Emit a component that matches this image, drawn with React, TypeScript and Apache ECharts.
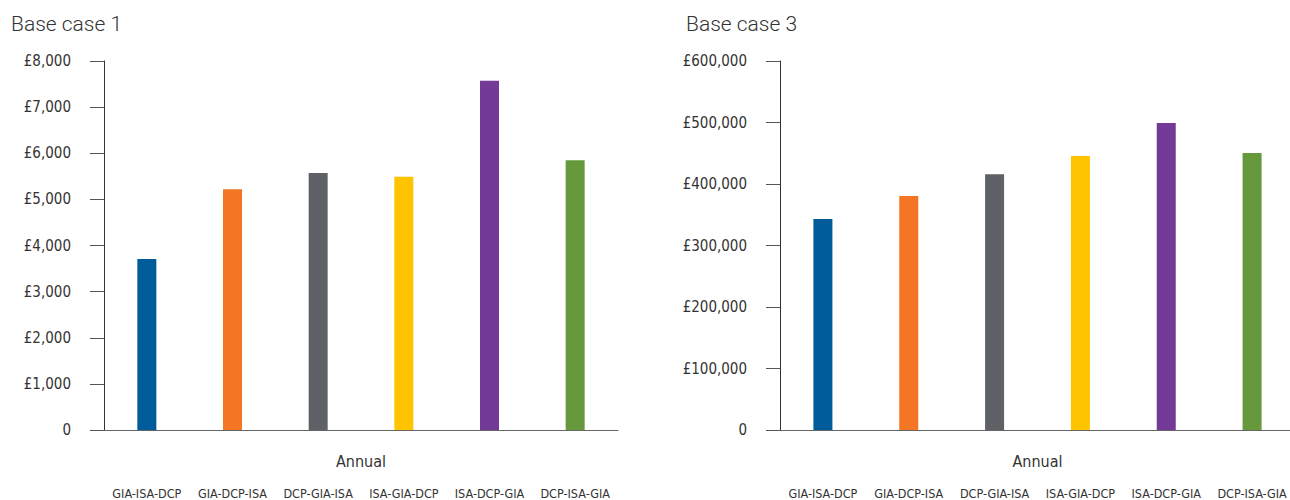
import React, { useEffect, useRef } from "react";
import * as echarts from "echarts";

const strategies = ["GIA-ISA-DCP", "GIA-DCP-ISA", "DCP-GIA-ISA", "ISA-GIA-DCP", "ISA-DCP-GIA", "DCP-ISA-GIA"];
const baseCase1 = [3710, 5220, 5570, 5490, 7570, 5850];
const baseCase3 = [343000, 380500, 416000, 445500, 499000, 450500];
const barColors = ["#005B9A", "#F47625", "#5E6266", "#FFC300", "#733A97", "#65993B"];
const titles = ["Base case 1", "Base case 3"];
const axisName = "Annual";

const condensed = "'Liberation Sans Narrow', 'DejaVu Sans Condensed', Roboto, sans-serif";

const fmt = (v: number) => (v === 0 ? "0" : "£" + v.toLocaleString("en-GB"));

export default function App() {
  const ref = useRef<HTMLDivElement>(null);
  useEffect(() => {
    if (!ref.current) return;
    const chart = echarts.init(ref.current, undefined, { renderer: "svg" });
    const grids = [
      { left: 104, width: 514, top: 61, height: 369, outerBoundsMode: "none", containLabel: false },
      { left: 780, width: 515, top: 61, height: 369, outerBoundsMode: "none", containLabel: false },
    ];
    const datasets = [baseCase1, baseCase3];
    const yMax = [8000, 600000];
    const yInt = [1000, 100000];
    chart.setOption({
      animation: false,
      title: titles.map((t, i) => ({
        text: t,
        left: i === 0 ? 6 : 681,
        top: 8,
        textStyle: { fontFamily: "Roboto, 'Liberation Sans', sans-serif", fontWeight: 300, fontSize: 21, color: "#333" },
      })),
      grid: grids,
      xAxis: grids.map((_, i) => ({
        type: "category",
        gridIndex: i,
        data: strategies,
        axisLine: { show: true, lineStyle: { color: "#666", width: 1 } },
        axisTick: { show: false },
        axisLabel: { margin: 57, fontSize: 12.5, color: "#333", fontFamily: condensed, interval: 0 },
        name: axisName,
        nameLocation: "middle",
        nameGap: 23,
        nameMoveOverlap: false,
        nameTextStyle: { fontSize: 16, color: "#333", fontFamily: condensed },
      })),
      yAxis: grids.map((_, i) => ({
        type: "value",
        gridIndex: i,
        min: 0,
        max: yMax[i],
        interval: yInt[i],
        axisLine: { show: true, lineStyle: { color: "#333", width: 1 } },
        axisTick: { show: true, length: 14, lineStyle: { color: "#555" } },
        splitLine: { show: false },
        axisLabel: { margin: 33, fontSize: 15, color: "#333", fontFamily: condensed, formatter: fmt },
      })),
      series: datasets.map((d, i) => ({
        type: "bar",
        xAxisIndex: i,
        yAxisIndex: i,
        barWidth: 19,
        data: d.map((v, j) => ({ value: v, itemStyle: { color: barColors[j] } })),
      })),
    });
    return () => chart.dispose();
  }, []);
  return <div ref={ref} style={{ position: "fixed", left: 0, top: 0, width: 1290, height: 500, background: "#fff" }} />;
}
